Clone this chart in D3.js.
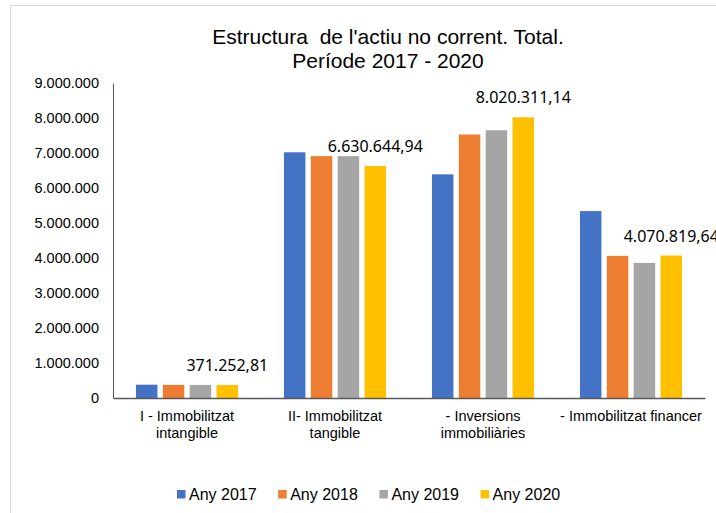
<!DOCTYPE html>
<html>
<head>
<meta charset="utf-8">
<script src="https://cdn.jsdelivr.net/npm/d3@7"></script>
<style>
  body { margin: 0; background: #fff; }
  svg { display: block; }
</style>
</head>
<body>
<div id="chart"></div>
<script>
// Dades del gràfic
const categories = [
  'I - Immobilitzat\nintangible',
  'II- Immobilitzat\ntangible',
  '- Inversions\nimmobiliàries',
  '- Immobilitzat financer'
];
const years = ['Any 2017', 'Any 2018', 'Any 2019', 'Any 2020'];
const any2017 = [380000, 7020000, 6390000, 5340000];
const any2018 = [376000, 6910000, 7530000, 4060000];
const any2019 = [373000, 6910000, 7650000, 3860000];
const any2020 = [371252.81, 6630644.94, 8020311.14, 4070819.64];
const yTicks = [0, 1000000, 2000000, 3000000, 4000000, 5000000, 6000000, 7000000, 8000000, 9000000];
const colors = ['#4472C4', '#ED7D31', '#A5A5A5', '#FFC000'];

const config = {
  width: 716,
  height: 513,
  margin: { top: 83, right: 11, bottom: 115, left: 113 }
};

const series = [any2017, any2018, any2019, any2020];
const data = categories.map((c, i) => ({
  cat: c,
  values: years.map((y, j) => ({ year: y, value: series[j][i] }))
}));

const locale = d3.formatLocale({ decimal: ',', thousands: '.', grouping: [3], currency: ['', ''] });
const tickFormat = locale.format(',d');
const labelFormat = locale.format(',.2f');

const svg = d3.select('#chart').append('svg')
  .attr('width', config.width)
  .attr('height', config.height);

// vora del gràfic
svg.append('rect')
  .attr('x', 10.5).attr('y', 5.5)
  .attr('width', 720).attr('height', 520)
  .attr('fill', 'none')
  .attr('stroke', '#d9d9d9');

const x0 = d3.scaleBand()
  .domain(categories)
  .range([config.margin.left, config.width - config.margin.right])
  .paddingInner(0.31)
  .paddingOuter(0.155);

const x1 = d3.scaleBand()
  .domain(years)
  .range([0, x0.bandwidth()])
  .paddingInner(0.2);

const y = d3.scaleLinear()
  .domain([0, 9000000])
  .range([config.height - config.margin.bottom, config.margin.top]);

// Títol
const title = svg.append('text')
  .attr('x', 387)
  .attr('text-anchor', 'middle')
  .attr('font-family', 'Liberation Sans, Arial, sans-serif')
  .attr('font-size', 21)
  .attr('fill', '#000');
title.append('tspan').attr('x', 388).attr('y', 44).attr('xml:space', 'preserve')
  .text("Estructura  de l'actiu no corrent. Total.");
title.append('tspan').attr('x', 388).attr('y', 67.5).text('Període 2017 - 2020');

// Eix Y
const yAxis = svg.append('g')
  .attr('transform', `translate(${config.margin.left},0)`)
  .call(d3.axisLeft(y).tickValues(yTicks).tickFormat(tickFormat).tickSize(0).tickSizeOuter(0).tickPadding(14));
yAxis.select('.domain').attr('stroke', '#595959');
yAxis.selectAll('text')
  .attr('font-family', 'Liberation Sans, Arial, sans-serif')
  .attr('font-size', 14.5)
  .attr('fill', '#000');

// Barres
const groups = svg.append('g').selectAll('g')
  .data(data)
  .join('g')
  .attr('transform', d => `translate(${x0(d.cat)},0)`);

groups.selectAll('rect')
  .data(d => d.values)
  .join('rect')
  .attr('x', d => x1(d.year))
  .attr('y', d => y(d.value))
  .attr('width', x1.bandwidth())
  .attr('height', d => y(0) - y(d.value))
  .attr('fill', (d, i) => colors[i]);

// Etiquetes de dades (Any 2020)
groups.append('text')
  .attr('x', x1('Any 2020') + x1.bandwidth() / 2)
  .attr('y', d => y(d.values[3].value) - 14)
  .attr('text-anchor', 'middle')
  .attr('font-family', 'Noto Sans, sans-serif')
  .attr('font-size', 16)
  .attr('fill', '#000')
  .text(d => labelFormat(d.values[3].value));

// Eix X
const xAxis = svg.append('g')
  .attr('transform', `translate(0,${y(0)})`)
  .call(d3.axisBottom(x0).tickSize(0).tickSizeOuter(0));
xAxis.select('.domain').attr('stroke', '#595959').attr('stroke-width', 1.5);
xAxis.selectAll('.tick text').each(function (d) {
  const t = d3.select(this).text(null)
    .attr('font-family', 'Liberation Sans, Arial, sans-serif')
    .attr('font-size', 14.5)
    .attr('fill', '#000')
    .attr('y', 0)
    .attr('dy', null);
  d.split('\n').forEach((line, i) => {
    t.append('tspan').attr('x', 0).attr('y', 23 + i * 17).text(line);
  });
});

// Llegenda
const legend = svg.append('g').attr('transform', 'translate(177,487)');
const item = legend.selectAll('g')
  .data(years)
  .join('g')
  .attr('transform', (d, i) => `translate(${i * 101.2},0)`);
item.append('rect')
  .attr('x', 0).attr('y', 3)
  .attr('width', 8.5).attr('height', 8.5)
  .attr('fill', (d, i) => colors[i]);
item.append('text')
  .attr('x', 12).attr('y', 12.5)
  .attr('font-family', 'Liberation Sans, Arial, sans-serif')
  .attr('font-size', 16)
  .attr('fill', '#000')
  .text(d => d);
</script>
</body>
</html>
